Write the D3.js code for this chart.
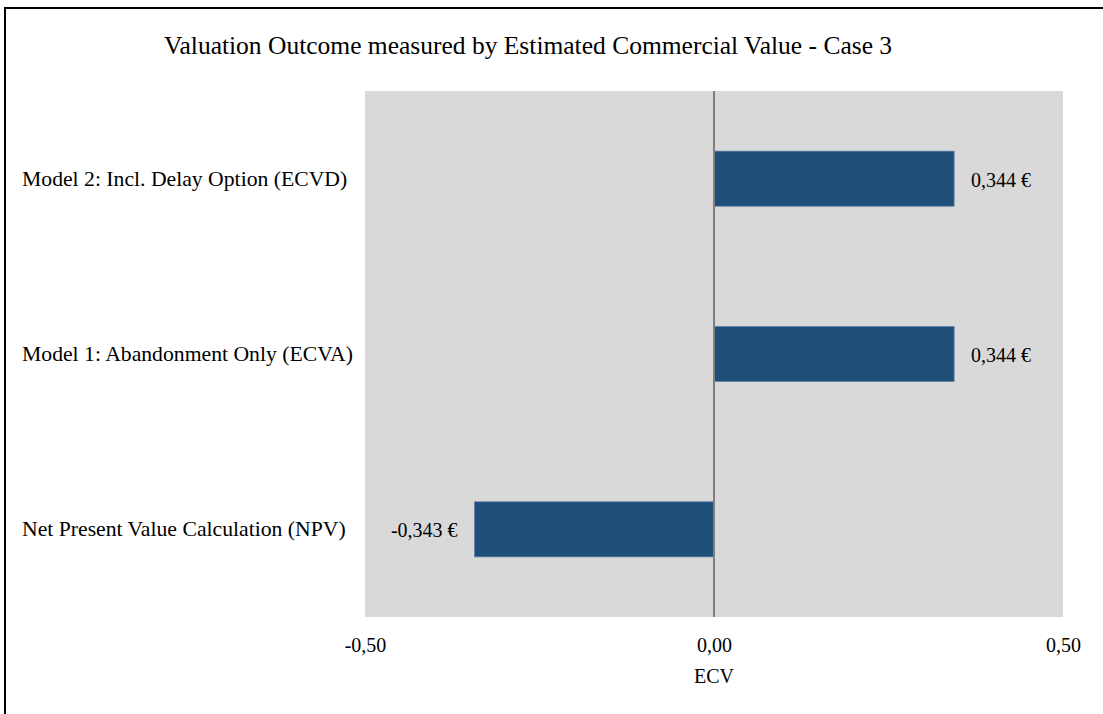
<!DOCTYPE html>
<html>
<head>
<meta charset="utf-8">
<script src="https://cdn.jsdelivr.net/npm/d3@7"></script>
<style>
  html, body { margin: 0; padding: 0; background: #fff; }
  svg { display: block; }
  text { font-family: "Liberation Serif", "Times New Roman", serif; fill: #000; }
</style>
</head>
<body>
<svg id="chart" width="1103" height="714"></svg>
<script>
const categories = [
  "Model 2: Incl. Delay Option (ECVD)",
  "Model 1: Abandonment Only (ECVA)",
  "Net Present Value Calculation (NPV)"
];
const values = [0.344, 0.344, -0.343];
const valueLabels = ["0,344 €", "0,344 €", "-0,343 €"];
const tickValues = [-0.5, 0, 0.5];
const tickLabels = ["-0,50", "0,00", "0,50"];
const title = "Valuation Outcome measured by Estimated Commercial Value - Case 3";
const axisTitle = "ECV";

const svg = d3.select("#chart");
const W = 1103, H = 714;
const plot = { left: 365, right: 1063, top: 91, bottom: 617 };

// outer border
svg.append("rect")
  .attr("x", 5).attr("y", 8).attr("width", W + 10).attr("height", H + 10)
  .attr("fill", "#fff").attr("stroke", "#000").attr("stroke-width", 2);

svg.append("text")
  .attr("x", 528).attr("y", 54)
  .attr("text-anchor", "middle")
  .style("font-size", "25.5px")
  .text(title);

const x = d3.scaleLinear().domain([-0.5, 0.5]).range([plot.left, plot.right]);
const y = d3.scaleBand().domain(categories)
  .range([plot.top, plot.bottom])
  .paddingInner(0.686).paddingOuter(0.343);

svg.append("rect")
  .attr("x", plot.left).attr("y", plot.top)
  .attr("width", plot.right - plot.left).attr("height", plot.bottom - plot.top)
  .attr("fill", "#D9D9D9");

const data = categories.map((c, i) => ({ c, v: values[i], l: valueLabels[i] }));

svg.append("g").selectAll("rect").data(data).join("rect")
  .attr("x", d => x(Math.min(0, d.v)))
  .attr("y", d => y(d.c))
  .attr("width", d => Math.abs(x(d.v) - x(0)))
  .attr("height", y.bandwidth())
  .attr("fill", "#1F4E79")
  .attr("stroke", "#5B7FA6").attr("stroke-width", 0.8);

// zero line
svg.append("line")
  .attr("x1", x(0)).attr("x2", x(0))
  .attr("y1", plot.top).attr("y2", plot.bottom)
  .attr("stroke", "#7F7F7F").attr("stroke-width", 2);

// value labels
svg.append("g").selectAll("text").data(data).join("text")
  .attr("x", d => d.v >= 0 ? x(d.v) + 17 : x(d.v) - 17)
  .attr("y", d => y(d.c) + y.bandwidth() / 2 + 1)
  .attr("dy", "0.35em")
  .attr("text-anchor", d => d.v >= 0 ? "start" : "end")
  .style("font-size", "20px")
  .text(d => d.l);

// category labels (left-aligned as in the reference)
const yAxis = d3.axisLeft(y).tickSize(0).tickPadding(0);
const gy = svg.append("g").attr("transform", `translate(${plot.left},0)`).call(yAxis);
gy.select(".domain").remove();
gy.selectAll("text")
  .attr("text-anchor", "start")
  .attr("x", 22 - plot.left)
  .style("font-size", "21.7px")
  .style("font-family", "'Liberation Serif', 'Times New Roman', serif");

// x axis
const xAxis = d3.axisBottom(x).tickValues(tickValues)
  .tickFormat((d, i) => tickLabels[i]).tickSize(0).tickPadding(21);
const gx = svg.append("g").attr("transform", `translate(0,${plot.bottom})`).call(xAxis);
gx.select(".domain").remove();
gx.selectAll("text").style("font-size", "20px")
  .style("font-family", "'Liberation Serif', 'Times New Roman', serif");

svg.append("text")
  .attr("x", x(0)).attr("y", 683)
  .attr("text-anchor", "middle")
  .style("font-size", "20px")
  .text(axisTitle);
</script>
</body>
</html>
